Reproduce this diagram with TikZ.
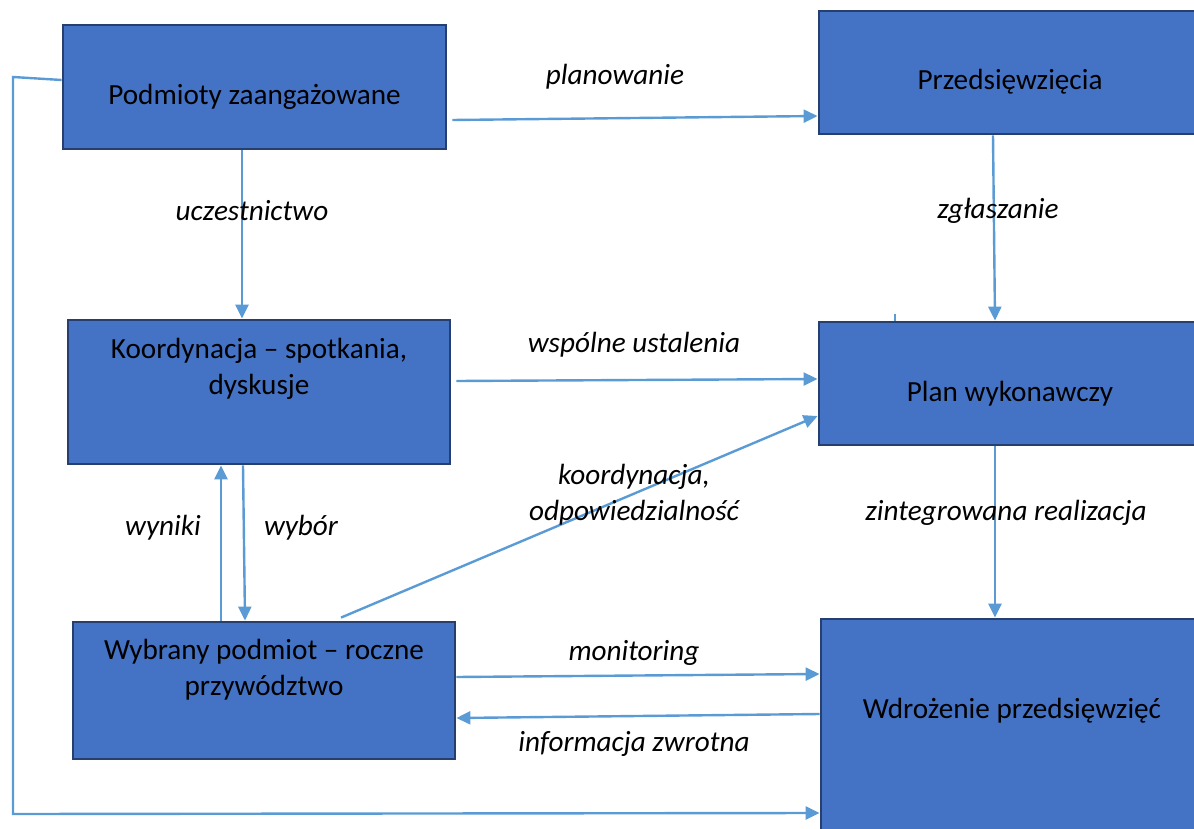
\documentclass[tikz,border=0pt]{standalone}
\usepackage{fontspec}
\setmainfont{Carlito}
\usepackage{xcolor}
\usepackage{tikz}
\usetikzlibrary{arrows.meta, positioning, calc}
\definecolor{wypelnienie}{HTML}{4472C4}
\definecolor{obrys}{HTML}{263F6E}
\definecolor{linia}{HTML}{5B9BD5}
% przesuniecie tekstu w bloku
\newcommand{\wgore}[1]{\rule[-#1]{0pt}{#1}}
\newcommand{\wdol}[1]{\rule{0pt}{#1}}

\begin{document}
\begin{tikzpicture}[x=0.5pt, y=-0.5pt, >=Stealth,
  font=\fontsize{14.6pt}{18pt}\selectfont,
  blok/.style={draw=obrys, line width=1.4pt, fill=wypelnienie, minimum width=191pt, align=center, inner sep=0pt},
  strz/.style={linia, line width=1.2pt, -{Triangle[length=7pt,width=6.5pt]}},
  opis/.style={font=\fontsize{14.6pt}{18pt}\selectfont\itshape, align=center}]
  \useasboundingbox (0,0) rectangle (1194,829);
  \clip (0,0) rectangle (1194,829);

  % Bloki
  \node[blok, minimum width=191.5pt, minimum height=62pt] (pod) at (254.5,87) {\wdol{20pt}Podmioty zaangażowane};
  \node[blok, minimum height=61.5pt] (prz) at (1010,72.5) {\wdol{19.5pt}Przedsięwzięcia};
  \node[blok, minimum height=72pt] (koo) at (259,392) {Koordynacja – spotkania,\\dyskusje\wgore{25.5pt}};
  \node[blok, minimum height=61.5pt] (plan) at (1010,383.5) {\wdol{20.5pt}Plan wykonawczy};
  \node[blok, minimum height=68.5pt] (wyb) at (264,690.5) {Wybrany podmiot – roczne\\przywództwo\wgore{23pt}};
  \node[blok, minimum height=115.5pt] (wdr) at (1012,734.5) {Wdrożenie przedsięwzięć\wgore{26pt}};

  % Punkty zalamania linii zwrotnej
  \coordinate (rog1) at (13,77);
  \coordinate (rog2) at (13,814);

  % Polaczenia
  \draw[strz] ($(pod.east)+(5,33)$) -- ($(prz.west)+(0,43.5)$);
  \draw[strz] ($(pod.south)+(-12.5,0)$) -- ($(koo.north)+(-17,0)$);
  \draw[strz] ($(prz.south)+(-17,0)$) -- ($(plan.north)+(-15,0)$);
  \draw[linia, line width=1pt] ($(plan.north)+(-115,0)$) -- ++(0,-7);
  \draw[strz] ($(koo.east)+(5,-11)$) -- ($(plan.west)+(0,-4.5)$);
  \draw[strz] ($(wyb.north)+(77,-3)$) -- ($(plan.west)+(0,32.5)$);
  \draw[strz] ($(wyb.north)+(-43,0)$) -- ($(koo.south)+(-38,0)$);
  \draw[strz] ($(koo.south)+(-16,0)$) -- ($(wyb.north)+(-19,0)$);
  \draw[strz] ($(plan.south)+(-15,0)$) -- ($(wdr.north)+(-17,0)$);
  \draw[strz] ($(wyb.east)+(0,-13.5)$) -- ($(wdr.west)+(0,-60.5)$);
  \draw[strz] ($(wdr.west)+(0,-20.5)$) -- ($(wyb.east)+(0,27.5)$);
  \draw[strz] ($(pod.west)+(0,-7)$) -- (rog1) -- (rog2) -- ($(wdr.west)+(0,78.5)$);

  % Opisy strzalek
  \node[opis] (o-plan) at (615,77) {planowanie};
  \node[opis] (o-ucz) at (252,211) {uczestnictwo};
  \node[opis] (o-zgl) at (998,211) {zgłaszanie};
  \node[opis] (o-wsp) at (634,345) {wspólne ustalenia};
  \node[opis] (o-koo) at (634,495) {koordynacja,\\odpowiedzialność};
  \node[opis] (o-wyn) at (163,528) {wyniki};
  \node[opis] (o-wyb) at (301,528) {wybór};
  \node[opis] (o-int) at (1006,513) {zintegrowana realizacja};
  \node[opis] (o-mon) at (634,653) {monitoring};
  \node[opis] (o-inf) at (634,744) {informacja zwrotna};
\end{tikzpicture}
\end{document}
